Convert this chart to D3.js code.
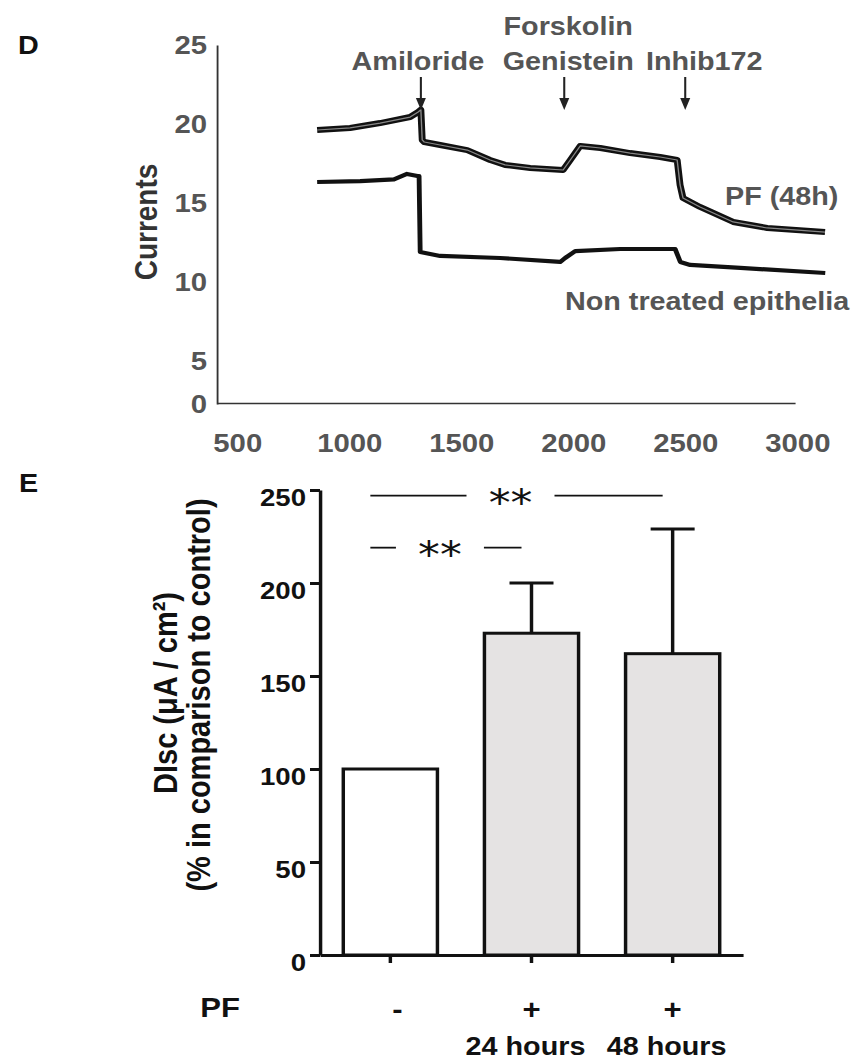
<!DOCTYPE html>
<html>
<head>
<meta charset="utf-8">
<title>Currents / DIsc</title>
<script src="https://d3js.org/d3.v7.min.js"></script>
<style>
  body { margin: 0; background: #fff; }
  svg { display: block; }
  text { font-family: "Liberation Sans", Arial, sans-serif; font-weight: bold; }
</style>
</head>
<body>
<div id="container"></div>
<script>
//------------------------ DATA ------------------------//
// panel D : current traces (time in s, current)
const pfTime    = [857, 1004, 1138, 1272, 1308, 1320, 1326, 1335, 1406, 1527, 1629, 1696, 1808, 1955, 1987, 2031, 2121, 2254, 2388, 2464, 2477, 2490, 2566, 2714, 2866, 3124];
const pfCurrent = [19.62, 19.75, 20.06, 20.44, 20.76, 20.9, 18.99, 18.86, 18.67, 18.35, 17.72, 17.41, 17.22, 17.09, 17.72, 18.61, 18.48, 18.16, 17.91, 17.72, 16.14, 15.32, 14.75, 13.8, 13.42, 13.16];
const ntTime    = [857, 1049, 1200, 1258, 1305, 1312, 1317, 1406, 1674, 1942, 1964, 2009, 2210, 2455, 2478, 2522, 2746, 3125];
const ntCurrent = [16.33, 16.39, 16.5, 16.84, 16.71, 16.71, 11.9, 11.65, 11.52, 11.27, 11.52, 11.96, 12.09, 12.09, 11.27, 11.08, 10.89, 10.57];
const eventTimes  = [1320, 1960, 2500];
const eventLabels = [["Amiloride"], ["Forskolin", "Genistein"], ["Inhib172"]];
const xTicksD = [500, 1000, 1500, 2000, 2500, 3000];
const yTicksD = [0, 5, 10, 15, 20, 25];

// panel E : bars
const groups    = ["control", "pf24", "pf48"];
const means     = [100, 173, 162];
const sems      = [0, 27, 67];
const pfSigns   = ["-", "+", "+"];
const durations = ["", "24 hours", "48 hours"];
const yTicksE   = [0, 50, 100, 150, 200, 250];
const sigPairs  = [[0, 2], [0, 1]];
const sigLevels = [247, 219];
const sigLabels = ["**", "**"];

//------------------------ SVG ------------------------//
// the original figure is stretched horizontally: draw in narrower units and stretch
const SX = 1.15;
const W = 861, H = 1063;
const sx = v => v / SX;

const svg = d3.select("#container").append("svg")
    .attr("width", W)
    .attr("height", H)
    .attr("viewBox", `0 0 ${W / SX} ${H}`)
    .attr("preserveAspectRatio", "none");

//------------------------ PANEL D ------------------------//
const xD = d3.scaleLinear().domain([410, 2990]).range([sx(217), sx(795)]);
const yD = d3.scaleLinear().domain([0, 5, 25]).range([404, 361, 45]);

svg.append("text").attr("x", sx(18)).attr("y", 54)
    .style("font-size", "25px").attr("fill", "#111").text("D");

const gyD = svg.append("g")
    .attr("transform", `translate(${sx(217)},0)`)
    .call(d3.axisLeft(yD).tickValues(yTicksD).tickSize(0).tickSizeOuter(0).tickPadding(sx(10)));
const gxD = svg.append("g")
    .attr("transform", "translate(0,403)")
    .call(d3.axisBottom(xD).tickValues(xTicksD).tickFormat(d3.format("d"))
        .tickSize(0).tickSizeOuter(0).tickPadding(31));
[gyD, gxD].forEach(g => {
    g.select(".domain").attr("stroke", "#333").attr("stroke-width", 1.6);
    g.selectAll("text").style("font-size", "25.5px").attr("fill", "#555");
});

svg.append("text")
    .attr("transform", `translate(${sx(157)},222) rotate(-90)`)
    .attr("text-anchor", "middle")
    .style("font-size", "28px").attr("fill", "#333")
    .text("Currents");

const line = d3.line()
    .x(d => xD(d[0]))
    .y(d => yD(d[1]));

// PF (48h) : doubled trace
svg.append("path")
    .attr("d", line(d3.zip(pfTime, pfCurrent)))
    .attr("fill", "none").attr("stroke", "#111").attr("stroke-width", 6)
    .attr("stroke-linejoin", "round");
svg.append("path")
    .attr("d", line(d3.zip(pfTime, pfCurrent)))
    .attr("fill", "none").attr("stroke", "#888").attr("stroke-width", 1.2)
    .attr("stroke-linejoin", "round");
// non treated
svg.append("path")
    .attr("d", line(d3.zip(ntTime, ntCurrent)))
    .attr("fill", "none").attr("stroke", "#111").attr("stroke-width", 4.2)
    .attr("stroke-linejoin", "round");

svg.append("text").attr("x", sx(725)).attr("y", 205)
    .style("font-size", "25px").attr("fill", "#555").text("PF (48h)");
svg.append("text").attr("x", sx(565)).attr("y", 310)
    .style("font-size", "25px").attr("fill", "#555").text("Non treated epithelia");

// drug additions
const labelDx = [-3, 4, 19];
const ev = svg.selectAll(".event")
    .data(eventTimes)
    .enter().append("g")
    .attr("class", "event");
ev.append("line")
    .attr("x1", d => xD(d)).attr("x2", d => xD(d))
    .attr("y1", 77).attr("y2", 100)
    .attr("stroke", "#222").attr("stroke-width", 1.8);
ev.append("path")
    .attr("d", d => `M${xD(d) - sx(5)},98 L${xD(d) + sx(5)},98 L${xD(d)},110 Z`)
    .attr("fill", "#222");
ev.each(function(d, i) {
    const lab = eventLabels[i];
    lab.forEach((t, j) => {
        d3.select(this).append("text")
            .attr("x", xD(d) + sx(labelDx[i]))
            .attr("y", 70 - (lab.length - 1 - j) * 35)
            .attr("text-anchor", "middle")
            .style("font-size", "25px").attr("fill", "#555")
            .text(t);
    });
});

//------------------------ PANEL E ------------------------//
const yE = d3.scaleLinear().domain([0, 250]).range([955, 490]);
const xE = d3.scaleBand().domain(groups).range([sx(320), sx(743)])
    .paddingInner(0.333).paddingOuter(0.165);
const bw = xE.bandwidth();

svg.append("text").attr("x", sx(19)).attr("y", 492)
    .style("font-size", "25px").attr("fill", "#111").text("E");

// bars
svg.selectAll(".bar")
    .data(groups)
    .enter().append("rect")
    .attr("class", "bar")
    .attr("x", d => xE(d))
    .attr("width", bw)
    .attr("y", (d, i) => yE(means[i]))
    .attr("height", (d, i) => yE(0) - yE(means[i]))
    .attr("fill", (d, i) => i === 0 ? "#fff" : "#e5e3e3")
    .attr("stroke", "#111").attr("stroke-width", 3);

// error bars
const errs = svg.selectAll(".err")
    .data(groups.filter((d, i) => sems[i] > 0))
    .enter().append("g").attr("class", "err");
errs.append("line")
    .attr("x1", d => xE(d) + bw / 2).attr("x2", d => xE(d) + bw / 2)
    .attr("y1", d => yE(means[groups.indexOf(d)]))
    .attr("y2", d => yE(means[groups.indexOf(d)] + sems[groups.indexOf(d)]))
    .attr("stroke", "#111").attr("stroke-width", 3);
errs.append("line")
    .attr("x1", d => xE(d) + bw / 2 - sx(22)).attr("x2", d => xE(d) + bw / 2 + sx(22))
    .attr("y1", d => yE(means[groups.indexOf(d)] + sems[groups.indexOf(d)]))
    .attr("y2", d => yE(means[groups.indexOf(d)] + sems[groups.indexOf(d)]))
    .attr("stroke", "#111").attr("stroke-width", 3);

// axes
const gyE = svg.append("g")
    .attr("transform", `translate(${sx(320)},0)`)
    .call(d3.axisLeft(yE).tickValues(yTicksE).tickSize(sx(10)).tickSizeOuter(0).tickPadding(sx(4)));
gyE.selectAll("text").attr("dy", "0.64em").style("font-size", "24px");
const gxE = svg.append("g")
    .attr("transform", "translate(0,955)")
    .call(d3.axisBottom(xE).tickSize(8).tickSizeOuter(0).tickPadding(37)
        .tickFormat((d, i) => pfSigns[i]));
gxE.selectAll("text").style("font-size", "27px");
gxE.selectAll(".tick text").attr("dx", (d, i) => i === 0 ? sx(7) : 0);
[gyE, gxE].forEach(g => {
    g.selectAll(".domain, .tick line").attr("stroke", "#111").attr("stroke-width", 3);
    g.selectAll("text").attr("fill", "#111");
});

svg.selectAll(".dur")
    .data(groups)
    .enter().append("text")
    .attr("class", "dur")
    .attr("x", d => xE(d) + bw / 2 - sx(6))
    .attr("y", 1055)
    .attr("text-anchor", "middle")
    .style("font-size", "25px").attr("fill", "#111")
    .text((d, i) => durations[i]);

svg.append("text").attr("x", sx(240)).attr("y", 1017)
    .attr("text-anchor", "end")
    .style("font-size", "27px").attr("fill", "#111").text("PF");

// y title
svg.append("text")
    .attr("transform", `translate(${sx(177)},693) rotate(-90)`)
    .attr("text-anchor", "middle")
    .style("font-size", "29px").attr("fill", "#111")
    .text("DIsc (\u03bcA / cm\u00b2)");
svg.append("text")
    .attr("transform", `translate(${sx(210)},695) rotate(-90)`)
    .attr("text-anchor", "middle")
    .style("font-size", "29px").attr("fill", "#111")
    .text("(% in comparison to control)");

// significance
sigPairs.forEach((p, i) => {
    const y = yE(sigLevels[i]);
    const x1 = xE(groups[p[0]]) + bw / 2 - sx(20);
    const x2 = xE(groups[p[1]]) + bw / 2 - sx(10);
    const c = (x1 + x2) / 2 - sx(6);
    const g = svg.append("g").attr("class", "sig");
    g.append("line").attr("x1", x1).attr("x2", c - sx(44)).attr("y1", y).attr("y2", y)
        .attr("stroke", "#111").attr("stroke-width", 1.8);
    g.append("line").attr("x1", c + sx(44)).attr("x2", x2).attr("y1", y).attr("y2", y)
        .attr("stroke", "#111").attr("stroke-width", 1.8);
    g.append("text").attr("x", c).attr("y", y + 20)
        .attr("text-anchor", "middle")
        .style("font-family", "'DejaVu Sans', sans-serif")
        .style("font-weight", "normal")
        .style("font-size", "38px").attr("fill", "#111")
        .text(sigLabels[i]);
});
</script>
</body>
</html>
